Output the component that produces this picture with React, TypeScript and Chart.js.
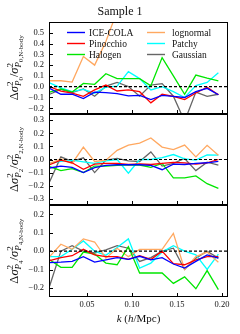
import React, { useEffect, useRef } from "react";
import { Chart, registerables } from "chart.js";

Chart.register(...registerables);

// ---------- data ----------
const kValues = [0.0085, 0.021, 0.0335, 0.046, 0.0585, 0.071, 0.0835, 0.096, 0.1085, 0.121, 0.1335, 0.146, 0.1585, 0.171, 0.1835, 0.196];

const seriesNames = ["ICE-COLA", "Pinocchio", "Halogen", "lognormal", "Patchy", "Gaussian"];
const seriesColors = ["#0000ff", "#ff0000", "#00e600", "#ffa860", "#00ffff", "#666666"];

// Panel P0
const p0IceCola = [-0.015, -0.07, -0.07, -0.11, -0.05, -0.055, -0.065, -0.085, -0.08, -0.12, -0.08, -0.09, -0.1, -0.045, -0.015, -0.075];
const p0Pinocchio = [0.0, -0.04, -0.06, -0.09, -0.03, 0.015, -0.04, -0.03, -0.046, -0.15, -0.07, -0.09, -0.12, -0.058, -0.005, -0.075];
const p0Halogen = [-0.05, -0.02, -0.05, 0.03, 0.022, 0.12, 0.075, 0.075, 0.075, 0.008, 0.27, 0.1, -0.07, 0.108, 0.08, 0.055];
const p0Lognormal = [0.055, 0.055, 0.043, 0.28, 0.2, 0.42, 0.7, 0.8, 0.85, 0.9, 0.85, 0.9, 0.95, 0.9, 0.85, 0.9];
const p0Patchy = [0.035, -0.01, -0.045, -0.025, -0.06, -0.005, 0.005, 0.14, 0.075, -0.03, 0.0, -0.045, -0.1, 0.01, 0.04, 0.13];
const p0Gaussian = [-0.07, -0.025, -0.055, -0.02, -0.088, 0.005, 0.04, 0.002, -0.088, 0.015, 0.028, -0.088, -0.32, -0.05, -0.09, -0.07];

// Panel P2
const p2IceCola = [-0.065, -0.05, -0.06, -0.1, -0.062, -0.045, -0.04, -0.04, -0.04, -0.045, -0.078, -0.035, -0.038, -0.03, -0.025, -0.015];
const p2Pinocchio = [-0.04, -0.005, -0.025, -0.075, -0.035, -0.03, -0.03, -0.038, -0.033, -0.038, -0.03, -0.022, -0.025, -0.035, -0.025, 0.0];
const p2Halogen = [-0.055, -0.085, -0.07, -0.1, -0.05, -0.05, -0.045, -0.04, -0.042, -0.06, -0.03, -0.14, -0.14, -0.125, -0.185, -0.22];
const p2Lognormal = [-0.03, 0.005, -0.03, 0.095, -0.015, -0.005, 0.07, 0.11, 0.125, 0.165, 0.095, 0.075, 0.11, 0.02, 0.108, 0.033];
const p2Patchy = [-0.03, -0.015, -0.005, -0.018, -0.03, -0.01, 0.0, -0.105, 0.0, 0.0, 0.015, 0.038, 0.005, -0.005, 0.035, 0.033];
const p2Gaussian = [-0.17, 0.02, -0.015, 0.013, -0.1, -0.005, 0.008, -0.01, -0.015, 0.058, -0.05, -0.03, 0.008, -0.085, -0.02, -0.043];

// Panel P4
const p4IceCola = [-0.062, -0.06, -0.056, -0.03, -0.06, -0.047, -0.035, -0.045, -0.028, -0.047, -0.035, -0.07, -0.092, -0.056, -0.02, -0.038];
const p4Pinocchio = [-0.052, -0.035, -0.025, 0.01, -0.02, -0.03, -0.03, -0.045, -0.025, -0.045, 0.0, -0.068, -0.074, -0.047, -0.03, -0.03];
const p4Halogen = [-0.047, -0.088, -0.088, -0.005, -0.016, -0.065, -0.074, 0.025, -0.119, -0.119, -0.119, -0.176, -0.14, -0.205, -0.106, -0.21];
const p4Lognormal = [-0.03, 0.038, 0.01, 0.067, 0.05, -0.038, 0.016, -0.03, 0.01, 0.01, 0.01, 0.097, -0.1, -0.03, -0.005, -0.06];
const p4Patchy = [-0.03, -0.03, 0.01, 0.056, 0.0, -0.023, 0.02, 0.067, -0.092, -0.065, -0.005, 0.03, 0.0, -0.02, -0.1, -0.016];
const p4Gaussian = [-0.19, 0.0, 0.03, 0.0, -0.01, 0.007, 0.03, 0.016, -0.056, -0.035, 0.0, 0.016, -0.1, -0.038, 0.0, -0.038];

const xTicks = [0.05, 0.1, 0.15, 0.2];
const p0Ticks = [-0.2, -0.1, 0.0, 0.1, 0.2, 0.3, 0.4, 0.5];
const p2Ticks = [-0.3, -0.2, -0.1, 0.0, 0.1, 0.2, 0.3];
const p4Ticks = [-0.2, -0.1, 0.0, 0.1, 0.2];

const titleText = "Sample 1";
const multipoles = ["0", "2", "4"];

// ---------- styling ----------
const SERIF = '"Liberation Serif", "Times New Roman", serif';
const PANEL_IDS = ["yP0", "yP2", "yP4"];

const fmt = (v: number, d: number) => {
  if (Math.abs(v) < 1e-9) return (0).toFixed(d);
  const s = Math.abs(v).toFixed(d);
  return v < 0 ? "\u2212" + s : s;
};

const makeY = (min: number, max: number, ticks: number[]) => ({
  type: "linear",
  position: "left",
  stack: "panels",
  stackWeight: 1,
  min,
  max,
  grid: { display: false, drawTicks: false },
  border: { display: false },
  ticks: {
    autoSkip: false,
    padding: 5,
    color: "#111",
    font: { family: SERIF, size: 8.5 },
    callback: (v: any) => fmt(Number(v), 1),
  },
  afterBuildTicks: (s: any) => {
    s.ticks = ticks.map((v) => ({ value: v }));
  },
  afterFit: (s: any) => {
    s.width = 49;
  },
});

type Run = { t: string; s: number; it?: boolean; dy?: number };
type Item = Run | { sup: Run[]; sub: Run[] };

function fontOf(r: Run) {
  return `${r.it ? "italic " : ""}${r.s}px ${SERIF}`;
}
function runsWidth(ctx: CanvasRenderingContext2D, runs: Run[]) {
  let w = 0;
  for (const r of runs) {
    ctx.font = fontOf(r);
    w += ctx.measureText(r.t).width;
  }
  return w;
}
function drawRuns(ctx: CanvasRenderingContext2D, runs: Run[], x: number) {
  for (const r of runs) {
    ctx.font = fontOf(r);
    ctx.fillText(r.t, x, r.dy || 0);
    x += ctx.measureText(r.t).width;
  }
  return x;
}
function drawMath(ctx: CanvasRenderingContext2D, items: Item[], cx: number, cy: number, rotate: boolean) {
  let total = 0;
  for (const it of items) {
    if ("sup" in it) total += Math.max(runsWidth(ctx, it.sup), runsWidth(ctx, it.sub));
    else total += runsWidth(ctx, [it]);
  }
  ctx.save();
  ctx.translate(cx, cy);
  if (rotate) ctx.rotate(-Math.PI / 2);
  ctx.textAlign = "left";
  ctx.textBaseline = "alphabetic";
  ctx.fillStyle = "#111";
  let x = -total / 2;
  for (const it of items) {
    if ("sup" in it) {
      const w1 = runsWidth(ctx, it.sup);
      const w2 = runsWidth(ctx, it.sub);
      drawRuns(ctx, it.sup, x);
      drawRuns(ctx, it.sub, x);
      x += Math.max(w1, w2);
    } else {
      x = drawRuns(ctx, [it], x);
    }
  }
  ctx.restore();
}

function yLabelItems(l: string): Item[] {
  const m = 12.5;
  const s1 = 9;
  const s2 = 7;
  const sup = -0.42 * m;
  const sub = 0.26 * m;
  const sub2 = 0.42 * m;
  return [
    { t: "\u0394", s: m },
    { t: "\u03c3", s: m, it: true },
    { sup: [{ t: "2", s: s1, dy: sup }], sub: [{ t: "P", s: s1, it: true, dy: sub }, { t: l, s: s2, dy: sub2 }] },
    { t: "/", s: m },
    { t: "\u03c3", s: m, it: true },
    {
      sup: [{ t: "2", s: s1, dy: sup }],
      sub: [{ t: "P", s: s1, it: true, dy: sub }, { t: l + ",N-body", s: s2, dy: sub2 }],
    },
  ];
}

const decorPlugin = {
  id: "panelDecor",
  afterDatasetsDraw(chart: any) {
    const ctx: CanvasRenderingContext2D = chart.ctx;
    const ca = chart.chartArea;
    const xs = chart.scales.x;
    ctx.save();
    // zero reference lines
    ctx.strokeStyle = "#000";
    ctx.lineWidth = 1.2;
    ctx.setLineDash([3, 2]);
    for (const id of PANEL_IDS) {
      const s = chart.scales[id];
      const y = s.getPixelForValue(0);
      ctx.beginPath();
      ctx.moveTo(ca.left, y);
      ctx.lineTo(ca.right, y);
      ctx.stroke();
    }
    ctx.setLineDash([]);
    // frames and inward ticks
    ctx.lineWidth = 1;
    ctx.strokeStyle = "#000";
    const L = Math.round(ca.left) + 0.5;
    const R = Math.round(ca.right) - 0.5;
    for (const id of PANEL_IDS) {
      const s = chart.scales[id];
      const T = Math.round(s.top) + 0.5;
      const B = Math.round(s.bottom) - 0.5;
      ctx.strokeRect(L, T, R - L, B - T);
      ctx.beginPath();
      for (const t of s.ticks) {
        const y = Math.round(s.getPixelForValue(t.value)) + 0.5;
        ctx.moveTo(L, y);
        ctx.lineTo(L + 3.5, y);
      }
      for (const v of xTicks) {
        const x = Math.round(xs.getPixelForValue(v)) + 0.5;
        ctx.moveTo(x, B);
        ctx.lineTo(x, B - 3.5);
      }
      ctx.stroke();
    }
    ctx.restore();
  },
  afterDraw(chart: any) {
    const ctx: CanvasRenderingContext2D = chart.ctx;
    const ca = chart.chartArea;
    ctx.save();
    // title
    ctx.fillStyle = "#111";
    ctx.font = `12px ${SERIF}`;
    ctx.textAlign = "center";
    ctx.textBaseline = "middle";
    ctx.fillText(titleText, chart.width / 2, 12);

    // legend inside top panel
    const top = chart.scales[PANEL_IDS[0]].top;
    const colX = [ca.left + 18, ca.left + 98];
    const rowY = [top + 10.5, top + 21.5, top + 32.5];
    ctx.font = `9.5px ${SERIF}`;
    ctx.textAlign = "left";
    ctx.textBaseline = "middle";
    seriesNames.forEach((name, i) => {
      const c = Math.floor(i / 3);
      const r = i % 3;
      const x0 = colX[c];
      const y0 = rowY[r];
      ctx.strokeStyle = seriesColors[i];
      ctx.lineWidth = 1.4;
      ctx.beginPath();
      ctx.moveTo(x0, y0);
      ctx.lineTo(x0 + 18, y0);
      ctx.stroke();
      ctx.fillStyle = "#111";
      ctx.fillText(name, x0 + 22 + (c === 1 ? 3 : 0), y0 + 0.5);
    });

    // y labels
    PANEL_IDS.forEach((id, i) => {
      const s = chart.scales[id];
      drawMath(ctx, yLabelItems(multipoles[i]), 18, (s.top + s.bottom) / 2, true);
    });

    // x label
    const xItems: Item[] = [
      { t: "k", s: 11, it: true },
      { t: " (", s: 11 },
      { t: "h", s: 11, it: true },
      { t: "/Mpc)", s: 11 },
    ];
    drawMath(ctx, xItems, (ca.left + ca.right) / 2, 322, false);
    ctx.restore();
  },
};

function buildDatasets() {
  const panels = [
    [p0IceCola, p0Pinocchio, p0Halogen, p0Lognormal, p0Patchy, p0Gaussian],
    [p2IceCola, p2Pinocchio, p2Halogen, p2Lognormal, p2Patchy, p2Gaussian],
    [p4IceCola, p4Pinocchio, p4Halogen, p4Lognormal, p4Patchy, p4Gaussian],
  ];
  const out: any[] = [];
  panels.forEach((series, p) => {
    series.forEach((vals, i) => {
      out.push({
        label: seriesNames[i],
        data: vals.map((v, j) => ({ x: kValues[j], y: v })),
        yAxisID: PANEL_IDS[p],
        borderColor: seriesColors[i],
        backgroundColor: seriesColors[i],
        borderWidth: 1.3,
        pointRadius: 0,
        tension: 0,
        fill: false,
      });
    });
  });
  return out;
}

export default function App() {
  const ref = useRef<HTMLCanvasElement | null>(null);
  useEffect(() => {
    if (!ref.current) return;
    const chart = new Chart(ref.current, {
      type: "line",
      data: { datasets: buildDatasets() },
      options: {
        animation: false,
        responsive: false,
        devicePixelRatio: 1,
        layout: { padding: { left: 0, right: 12, top: 22, bottom: 0 } },
        plugins: { legend: { display: false }, tooltip: { enabled: false }, title: { display: false } },
        scales: {
          x: {
            type: "linear",
            position: "bottom",
            min: 0.0078,
            max: 0.2067,
            grid: { display: false, drawTicks: false },
            border: { display: false },
            ticks: {
              autoSkip: false,
              padding: 3,
              maxRotation: 0,
              color: "#111",
              font: { family: SERIF, size: 8.5 },
              callback: (v: any) => fmt(Number(v), 2),
            },
            afterBuildTicks: (s: any) => {
              s.ticks = xTicks.map((v) => ({ value: v }));
            },
            afterFit: (s: any) => {
              s.height = 37;
            },
          },
          yP4: makeY(-0.25, 0.25, p4Ticks),
          yP2: makeY(-0.35, 0.35, p2Ticks),
          yP0: makeY(-0.25, 0.6, p0Ticks),
        } as any,
      },
      plugins: [decorPlugin],
    } as any);
    return () => chart.destroy();
  }, []);
  return (
    <div style={{ position: "absolute", left: 0, top: 0, width: 240, height: 334 }}>
      <canvas ref={ref} width={240} height={334} style={{ display: "block", width: 240, height: 334 }} />
    </div>
  );
}
